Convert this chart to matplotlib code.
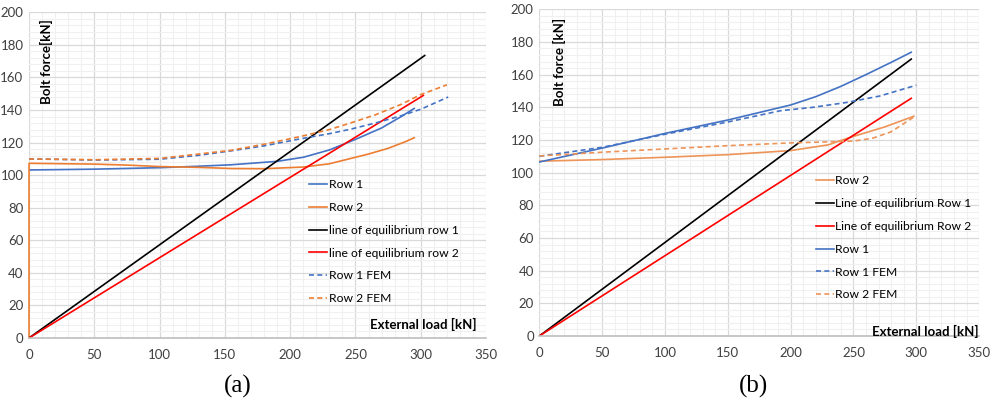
import numpy as np
import matplotlib
matplotlib.use('Agg')
import matplotlib.pyplot as plt
from matplotlib.ticker import MultipleLocator

plt.rcParams['font.family'] = ['Lato', 'DejaVu Sans']

# (a) analytical rows + FEM
a_r1_x = [0, 50, 100, 130, 155, 190, 210, 230, 250, 270, 285, 295]
a_r1_y = [103.2, 103.7, 104.6, 105.5, 106.4, 108.5, 111, 115.5, 122, 129, 136, 141]
a_r2_x = [0, 0, 50, 75, 100, 130, 155, 180, 210, 230, 245, 260, 275, 288, 295]
a_r2_y = [0, 107.3, 106.8, 106.2, 105.3, 104.8, 104.1, 104, 105, 107, 110, 113, 116.5, 120.5, 123]
a_eq1_x = [0, 303]
a_eq1_y = [0, 173.5]
a_eq2_x = [0, 302]
a_eq2_y = [0, 149]
a_r1f_x = [0, 50, 100, 130, 155, 180, 207, 230, 246, 265, 285, 300, 321]
a_r1f_y = [110, 109.3, 109.8, 112.2, 115, 118, 122.2, 125.5, 128.2, 132, 136.5, 140.5, 148]
a_r2f_x = [0, 50, 100, 130, 155, 180, 207, 230, 246, 265, 285, 300, 320]
a_r2f_y = [110, 109.5, 110.3, 113, 115.3, 119, 123.6, 128, 132, 137, 143.5, 149.5, 155.5]

# (b)
b_r1_x = [0, 50, 100, 150, 200, 220, 240, 260, 280, 296]
b_r1_y = [106.5, 115, 124, 132.2, 141.4, 146.5, 152.8, 160, 167.5, 173.7]
b_r2_x = [0, 50, 100, 150, 200, 230, 245, 260, 275, 298]
b_r2_y = [107, 108, 109.4, 111, 113.5, 117, 121, 124.5, 128, 134.5]
b_eq1_x = [0, 296]
b_eq1_y = [0, 169.5]
b_eq2_x = [0, 296]
b_eq2_y = [0, 145.5]
b_r1f_x = [0, 50, 100, 150, 192, 218, 245, 271, 300]
b_r1f_y = [110, 115.5, 123.5, 131, 137.9, 140, 143, 146.9, 153.5]
b_r2f_x = [0, 50, 100, 150, 200, 234, 250, 265, 280, 298]
b_r2f_y = [110.2, 112.5, 114.5, 116.5, 118.2, 118.9, 119.3, 121, 125, 134]

BLUE = '#4472C4'
ORANGE = '#ED7D31'
ORANGE_B = '#EE9458'

fig = plt.figure(figsize=(9.94, 4.03), dpi=100)
ax1 = fig.add_axes([0.0292, 0.1613, 0.4598, 0.808])
ax2 = fig.add_axes([0.5426, 0.1663, 0.4424, 0.8107])


def style(ax):
    ax.set_xlim(0, 350)
    ax.set_ylim(0, 200)
    ax.xaxis.set_major_locator(MultipleLocator(50))
    ax.yaxis.set_major_locator(MultipleLocator(20))
    ax.xaxis.set_minor_locator(MultipleLocator(10))
    ax.yaxis.set_minor_locator(MultipleLocator(4))
    ax.grid(which='major', color='#D9D9D9', lw=0.9)
    ax.grid(which='minor', color='#F0F0F0', lw=0.8)
    ax.set_axisbelow(True)
    for s in ['top', 'right', 'left']:
        ax.spines[s].set_visible(False)
    ax.spines['bottom'].set_color('#BFBFBF')
    ax.spines['bottom'].set_linewidth(1.2)
    ax.tick_params(which='both', length=0, labelsize=9.5, labelcolor='#404040')
    ax.tick_params(axis='x', pad=8)
    ax.tick_params(axis='y', pad=4)


lw = 1.2
leg_kw = dict(loc='upper left', frameon=False, fontsize=8.7, handlelength=1.5,
              handletextpad=0.1, labelspacing=0.98, borderpad=0, borderaxespad=0)

style(ax1)
ax1.plot(a_r1_x, a_r1_y, color=BLUE, lw=lw, label='Row 1')
ax1.plot(a_r2_x, a_r2_y, color=ORANGE, lw=lw, label='Row 2', clip_on=False)
ax1.plot(a_eq1_x, a_eq1_y, color='black', lw=lw, label='line of equilibrium row 1')
ax1.plot(a_eq2_x, a_eq2_y, color='red', lw=lw, label='line of equilibrium row 2')
ax1.plot(a_r1f_x, a_r1f_y, color=BLUE, lw=lw, ls=(0, (3, 2)), label='Row 1 FEM')
ax1.plot(a_r2f_x, a_r2f_y, color=ORANGE, lw=lw, ls=(0, (3, 2)), label='Row 2 FEM')
ax1.legend(bbox_to_anchor=(0.613, 0.488), **leg_kw)
ax1.text(0.039, 0.98, 'Bolt force[kN]', transform=ax1.transAxes, rotation=90, ha='center', va='top',
         fontsize=9.5, fontweight='bold')
ax1.text(0.98, 0.04, 'External load [kN]', transform=ax1.transAxes, ha='right', va='center',
         fontsize=9.5, fontweight='bold')

style(ax2)
ax2.plot(b_r2_x, b_r2_y, color=ORANGE_B, lw=lw, label='Row 2')
ax2.plot(b_eq1_x, b_eq1_y, color='black', lw=lw, label='Line of equilibrium Row 1')
ax2.plot(b_eq2_x, b_eq2_y, color='red', lw=lw, label='Line of equilibrium Row 2')
ax2.plot(b_r1_x, b_r1_y, color=BLUE, lw=lw, label='Row 1')
ax2.plot(b_r1f_x, b_r1f_y, color=BLUE, lw=lw, ls=(0, (3, 2)), label='Row 1 FEM')
ax2.plot(b_r2f_x, b_r2f_y, color=ORANGE_B, lw=lw, ls=(0, (3, 2)), label='Row 2 FEM')
ax2.legend(bbox_to_anchor=(0.628, 0.492), **leg_kw)
ax2.text(0.045, 0.973, 'Bolt force [kN]', transform=ax2.transAxes, rotation=90, ha='center', va='top',
         fontsize=9.5, fontweight='bold')
ax2.text(1.0, 0.015, 'External load [kN]', transform=ax2.transAxes, ha='right', va='center',
         fontsize=9.5, fontweight='bold')

fig.text(238 / 994, 1 - 386 / 403, '(a)', ha='center', va='center', fontsize=18, family='Liberation Serif')
fig.text(754 / 994, 1 - 386 / 403, '(b)', ha='center', va='center', fontsize=18, family='Liberation Serif')

fig.savefig('out.png', dpi=100)
